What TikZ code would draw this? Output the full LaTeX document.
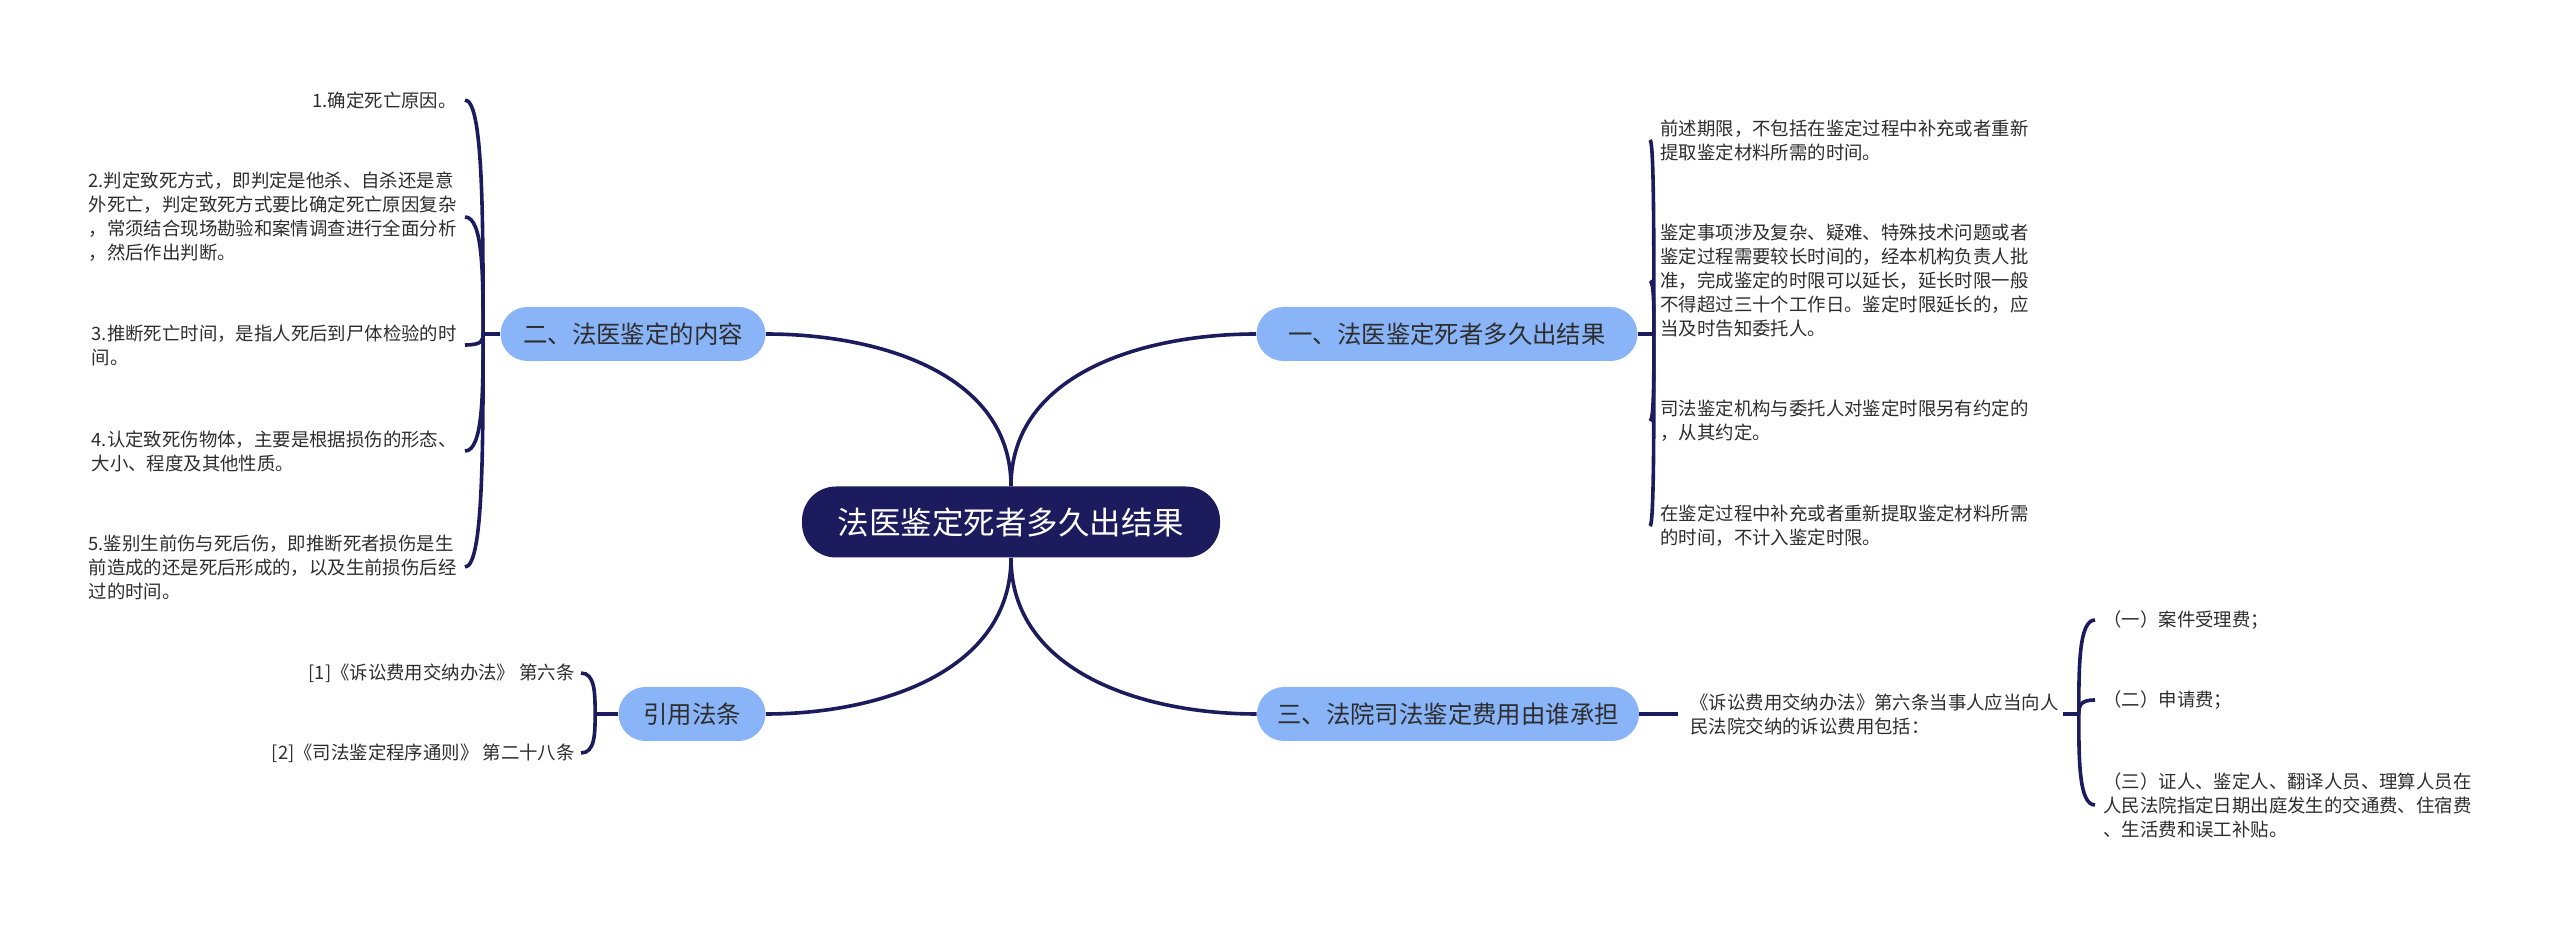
\documentclass[tikz,border=0pt]{standalone}
\usepackage{fontspec}
\setmainfont{Noto Sans CJK SC}
\usepackage{tikz}
\usetikzlibrary{calc}
\definecolor{mapnavy}{RGB}{28,27,94}
\definecolor{mapblue}{RGB}{138,180,248}
\definecolor{maptext}{RGB}{45,45,45}
\tikzset{
    rootblk/.style={rectangle, fill=mapnavy, text=white, rounded corners=17pt,
                    minimum width=209pt, minimum height=35.5pt,
                    font=\fontsize{15.75pt}{18pt}\selectfont},
    brblk/.style={rectangle, fill=mapblue, text=maptext, rounded corners=13.5pt,
                  minimum width=#1, minimum height=27pt, inner xsep=0pt,
                  font=\fontsize{12.2pt}{14pt}\selectfont},
    leafblk/.style={inner sep=0pt, align=left, text=maptext,
                    font=\fontsize{9.2pt}{12pt}\selectfont},
    leafr/.style={leafblk, align=right},
    lnk/.style={draw=mapnavy, line width=1.8pt},
}

\begin{document}
\begin{tikzpicture}[x=0.5pt, y=-0.5pt]
    \useasboundingbox (0,0) rectangle (2560,929);

    \node[rootblk] (root) at (1011,522) {法医鉴定死者多久出结果};

    \node[brblk=190.5pt] (b1) at (1447,334) {一、法医鉴定死者多久出结果};
    \node[brblk=132.5pt] (b2) at (633,334)  {二、法医鉴定的内容};
    \node[brblk=191pt]   (b3) at (1448,714) {三、法院司法鉴定费用由谁承担};
    \node[brblk=73.5pt]  (b4) at (692,714)  {引用法条};

    % 一
    \node[leafblk, anchor=west] (a1) at (1660,140) {前述期限，不包括在鉴定过程中补充或者重新\\提取鉴定材料所需的时间。};
    \node[leafblk, anchor=west] (a2) at (1660,281) {鉴定事项涉及复杂、疑难、特殊技术问题或者\\鉴定过程需要较长时间的，经本机构负责人批\\准，完成鉴定的时限可以延长，延长时限一般\\不得超过三十个工作日。鉴定时限延长的，应\\当及时告知委托人。};
    \node[leafblk, anchor=west] (a3) at (1660,421) {司法鉴定机构与委托人对鉴定时限另有约定的\\，从其约定。};
    \node[leafblk, anchor=west] (a4) at (1660,526) {在鉴定过程中补充或者重新提取鉴定材料所需\\的时间，不计入鉴定时限。};

    % 二
    \node[leafr, anchor=east] (c1) at (457,100) {1.确定死亡原因。};
    \node[leafblk, anchor=east] (c2) at (457,217) {2.判定致死方式，即判定是他杀、自杀还是意\\外死亡，判定致死方式要比确定死亡原因复杂\\，常须结合现场勘验和案情调查进行全面分析\\，然后作出判断。};
    \node[leafblk, anchor=east] (c3) at (457,345) {3.推断死亡时间，是指人死后到尸体检验的时\\间。};
    \node[leafblk, anchor=east] (c4) at (457,451) {4.认定致死伤物体，主要是根据损伤的形态、\\大小、程度及其他性质。};
    \node[leafblk, anchor=east] (c5) at (457,567) {5.鉴别生前伤与死后伤，即推断死者损伤是生\\前造成的还是死后形成的，以及生前损伤后经\\过的时间。};

    % 三
    \node[leafblk, anchor=west] (d0) at (1690,714) {《诉讼费用交纳办法》第六条当事人应当向人\\民法院交纳的诉讼费用包括：};
    \node[leafblk, anchor=west] (d1) at (2103,620) {（一）案件受理费；};
    \node[leafblk, anchor=west] (d2) at (2103,700) {（二）申请费；};
    \node[leafblk, anchor=west] (d3) at (2103,805) {（三）证人、鉴定人、翻译人员、理算人员在\\人民法院指定日期出庭发生的交通费、住宿费\\、生活费和误工补贴。};

    % 引用法条
    \node[leafr, anchor=east] (e1) at (575,673) {[1]《诉讼费用交纳办法》 第六条};
    \node[leafr, anchor=east] (e2) at (575,753) {[2]《司法鉴定程序通则》 第二十八条};

    % root to branches
    \draw[lnk] (root.north) to[out=90,in=180] (b1.west);
    \draw[lnk] (root.north) to[out=90,in=0] (b2.east);
    \draw[lnk] (root.south) to[out=-90,in=180] (b3.west);
    \draw[lnk] (root.south) to[out=-90,in=0] (b4.east);

    % braces
    \coordinate (j1) at ([xshift=8pt]b1.east);
    \coordinate (j2) at ([xshift=-8.5pt]b2.west);
    \coordinate (j3) at ([xshift=10pt]d0.east);
    \coordinate (j4) at ([xshift=-11.5pt]b4.west);

    \draw[lnk] (b1.east) -- (j1);
    \foreach \n in {a1,a2,a3,a4}
        \draw[lnk] (j1) .. controls ($(j1)!.5!(j1|-\n)$) and (j1|-\n) .. ([xshift=-5pt]\n.west);

    \draw[lnk] (b2.west) -- (j2);
    \foreach \n in {c1,c2,c3,c4,c5}
        \draw[lnk] (j2) .. controls ($(j2)!.5!(j2|-\n)$) and (j2|-\n) .. ([xshift=4pt]\n.east);

    \draw[lnk] (b3.east) -- ([xshift=-6pt]d0.west);
    \draw[lnk] ([xshift=2pt]d0.east) -- (j3);
    \foreach \n in {d1,d2,d3}
        \draw[lnk] (j3) .. controls ($(j3)!.5!(j3|-\n)$) and (j3|-\n) .. ([xshift=-4pt]\n.west);

    \draw[lnk] (b4.west) -- (j4);
    \foreach \n in {e1,e2}
        \draw[lnk] (j4) .. controls ($(j4)!.5!(j4|-\n)$) and (j4|-\n) .. ([xshift=3pt]\n.east);
\end{tikzpicture}
\end{document}
